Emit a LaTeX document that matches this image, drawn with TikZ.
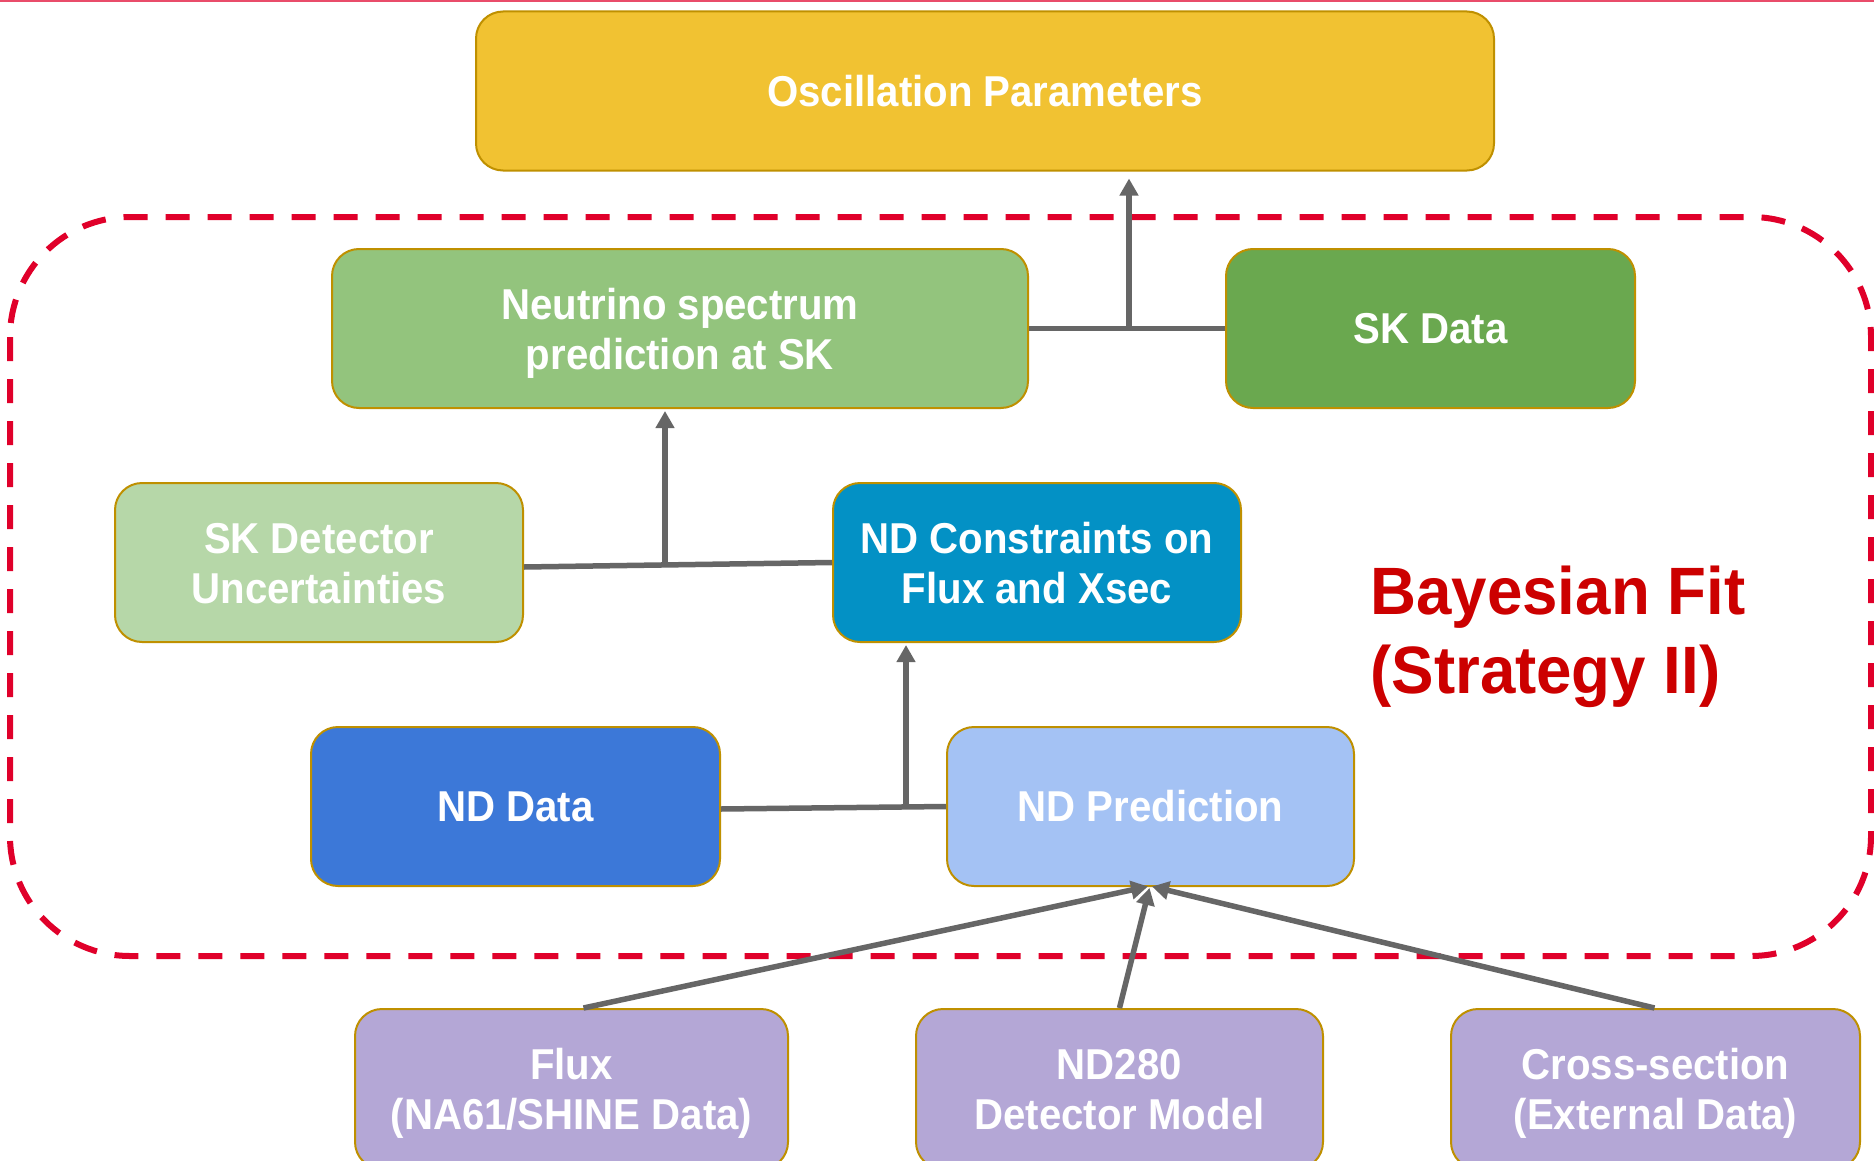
\documentclass[tikz,border=0pt]{standalone}
\usepackage{fontspec}
\usetikzlibrary{arrows.meta,calc}
\newfontfamily\boxfont[FakeStretch=0.93]{Liberation Sans}
\newfontfamily\fitfont[FakeStretch=0.95]{Liberation Sans}
\definecolor{edgegold}{HTML}{BF9000}
\definecolor{oscyellow}{HTML}{F1C232}
\definecolor{nspgreen}{HTML}{93C47D}
\definecolor{skgreen}{HTML}{6AA84F}
\definecolor{unclight}{HTML}{B6D7A8}
\definecolor{ndcblue}{HTML}{0391C5}
\definecolor{nddblue}{HTML}{3C78D8}
\definecolor{ndpblue}{HTML}{A4C2F4}
\definecolor{inpurple}{HTML}{B4A7D6}
\definecolor{linkgray}{HTML}{666666}
\definecolor{fitred}{HTML}{CC0000}
\definecolor{dashred}{HTML}{E0002A}
% two-line labels: struts keep the pair of lines centred on the caps
\newcommand\twolines[2]{\rule{0pt}{20.1pt}#1\\#2\rule[-4.6pt]{0pt}{0pt}}
\tikzset{
  stage/.style={draw=edgegold, line width=1pt, rounded corners=13.5pt,
    minimum height=79.5pt, align=center, text=white, inner sep=0pt,
    font=\boxfont\bfseries\fontsize{21.6}{25}\selectfont},
  link/.style={draw=linkgray, line width=2.75pt},
  feed/.style={link, -{Triangle[length=8.5pt,width=9pt]}, shorten >=1pt},
}
\begin{document}
\begin{tikzpicture}[x=0.5pt, y=-0.5pt]
\useasboundingbox (0,0) rectangle (1874,1161);
\clip (0,0) rectangle (1874,1161);
\fill[white] (0,0) rectangle (1874,1161);
\draw[color=dashred!70, line width=1pt] (0,1) -- (1874,1);

% boundary of the fit
\draw[dashred, line width=3pt, dash pattern=on 12pt off 9pt, rounded corners=60pt]
  (10,217) rectangle (1871,956);

% stages
\node[stage, fill=oscyellow, minimum width=509pt] (osc) at (985,91) {Oscillation Parameters};
\node[stage, fill=nspgreen, minimum width=348pt] (nsp) at (680,328.5) {\twolines{Neutrino spectrum}{prediction at SK}};
\node[stage, fill=skgreen, minimum width=204.5pt] (skd) at (1430.5,328.5) {SK Data};
\node[stage, fill=unclight, minimum width=204pt] (sku) at (319,562.5) {\twolines{SK Detector}{Uncertainties}};
\node[stage, fill=ndcblue, minimum width=204pt] (ndc) at (1037,562.5) {\twolines{ND Constraints on}{Flux and Xsec}};
\node[stage, fill=nddblue, minimum width=204.5pt] (ndd) at (515.5,806.5) {ND Data};
\node[stage, fill=ndpblue, minimum width=203.5pt] (ndp) at (1150.5,806.5) {ND Prediction};
\node[stage, fill=inpurple, minimum width=216.5pt, minimum height=80pt] (flux) at (571.5,1089) {\twolines{Flux}{(NA61/SHINE Data)}};
\node[stage, fill=inpurple, minimum width=203.5pt, minimum height=80pt] (nd280) at (1119.5,1089) {\twolines{ND280}{Detector Model}};
\node[stage, fill=inpurple, minimum width=204.5pt, minimum height=80pt] (xs) at (1655.5,1089) {\twolines{Cross-section}{(External Data)}};

% label of the fit
\node[anchor=west, align=left, text=fitred, inner sep=0pt,
  font=\fitfont\bfseries\fontsize{33.5}{39.5}\selectfont] (fit) at (1370,637)
  {Bayesian Fit\\(Strategy II)};

% connectors
\coordinate (j1) at (1129,328.5);
\draw[link] (nsp.east) -- (skd.west);
\draw[feed, shorten >=3.5pt] (j1) -- (j1 |- osc.south);

\coordinate (j2) at (665,565);
\draw[link] ($(sku.east)+(0,4.5)$) -- (ndc.west);
\draw[feed] (j2) -- (j2 |- nsp.south);

\coordinate (j3) at (906,807.5);
\draw[link] ($(ndd.east)+(0,2.5)$) -- (ndp.west);
\draw[feed] (j3) -- (j3 |- ndc.south);

\coordinate (hub) at (1150,886);
\draw[feed] ($(flux.north)+(12,0)$) -- (hub);
\draw[feed] (nd280.north) -- (hub);
\draw[feed] ($(xs.north)+(-1,0)$) -- (hub);
\end{tikzpicture}
\end{document}
